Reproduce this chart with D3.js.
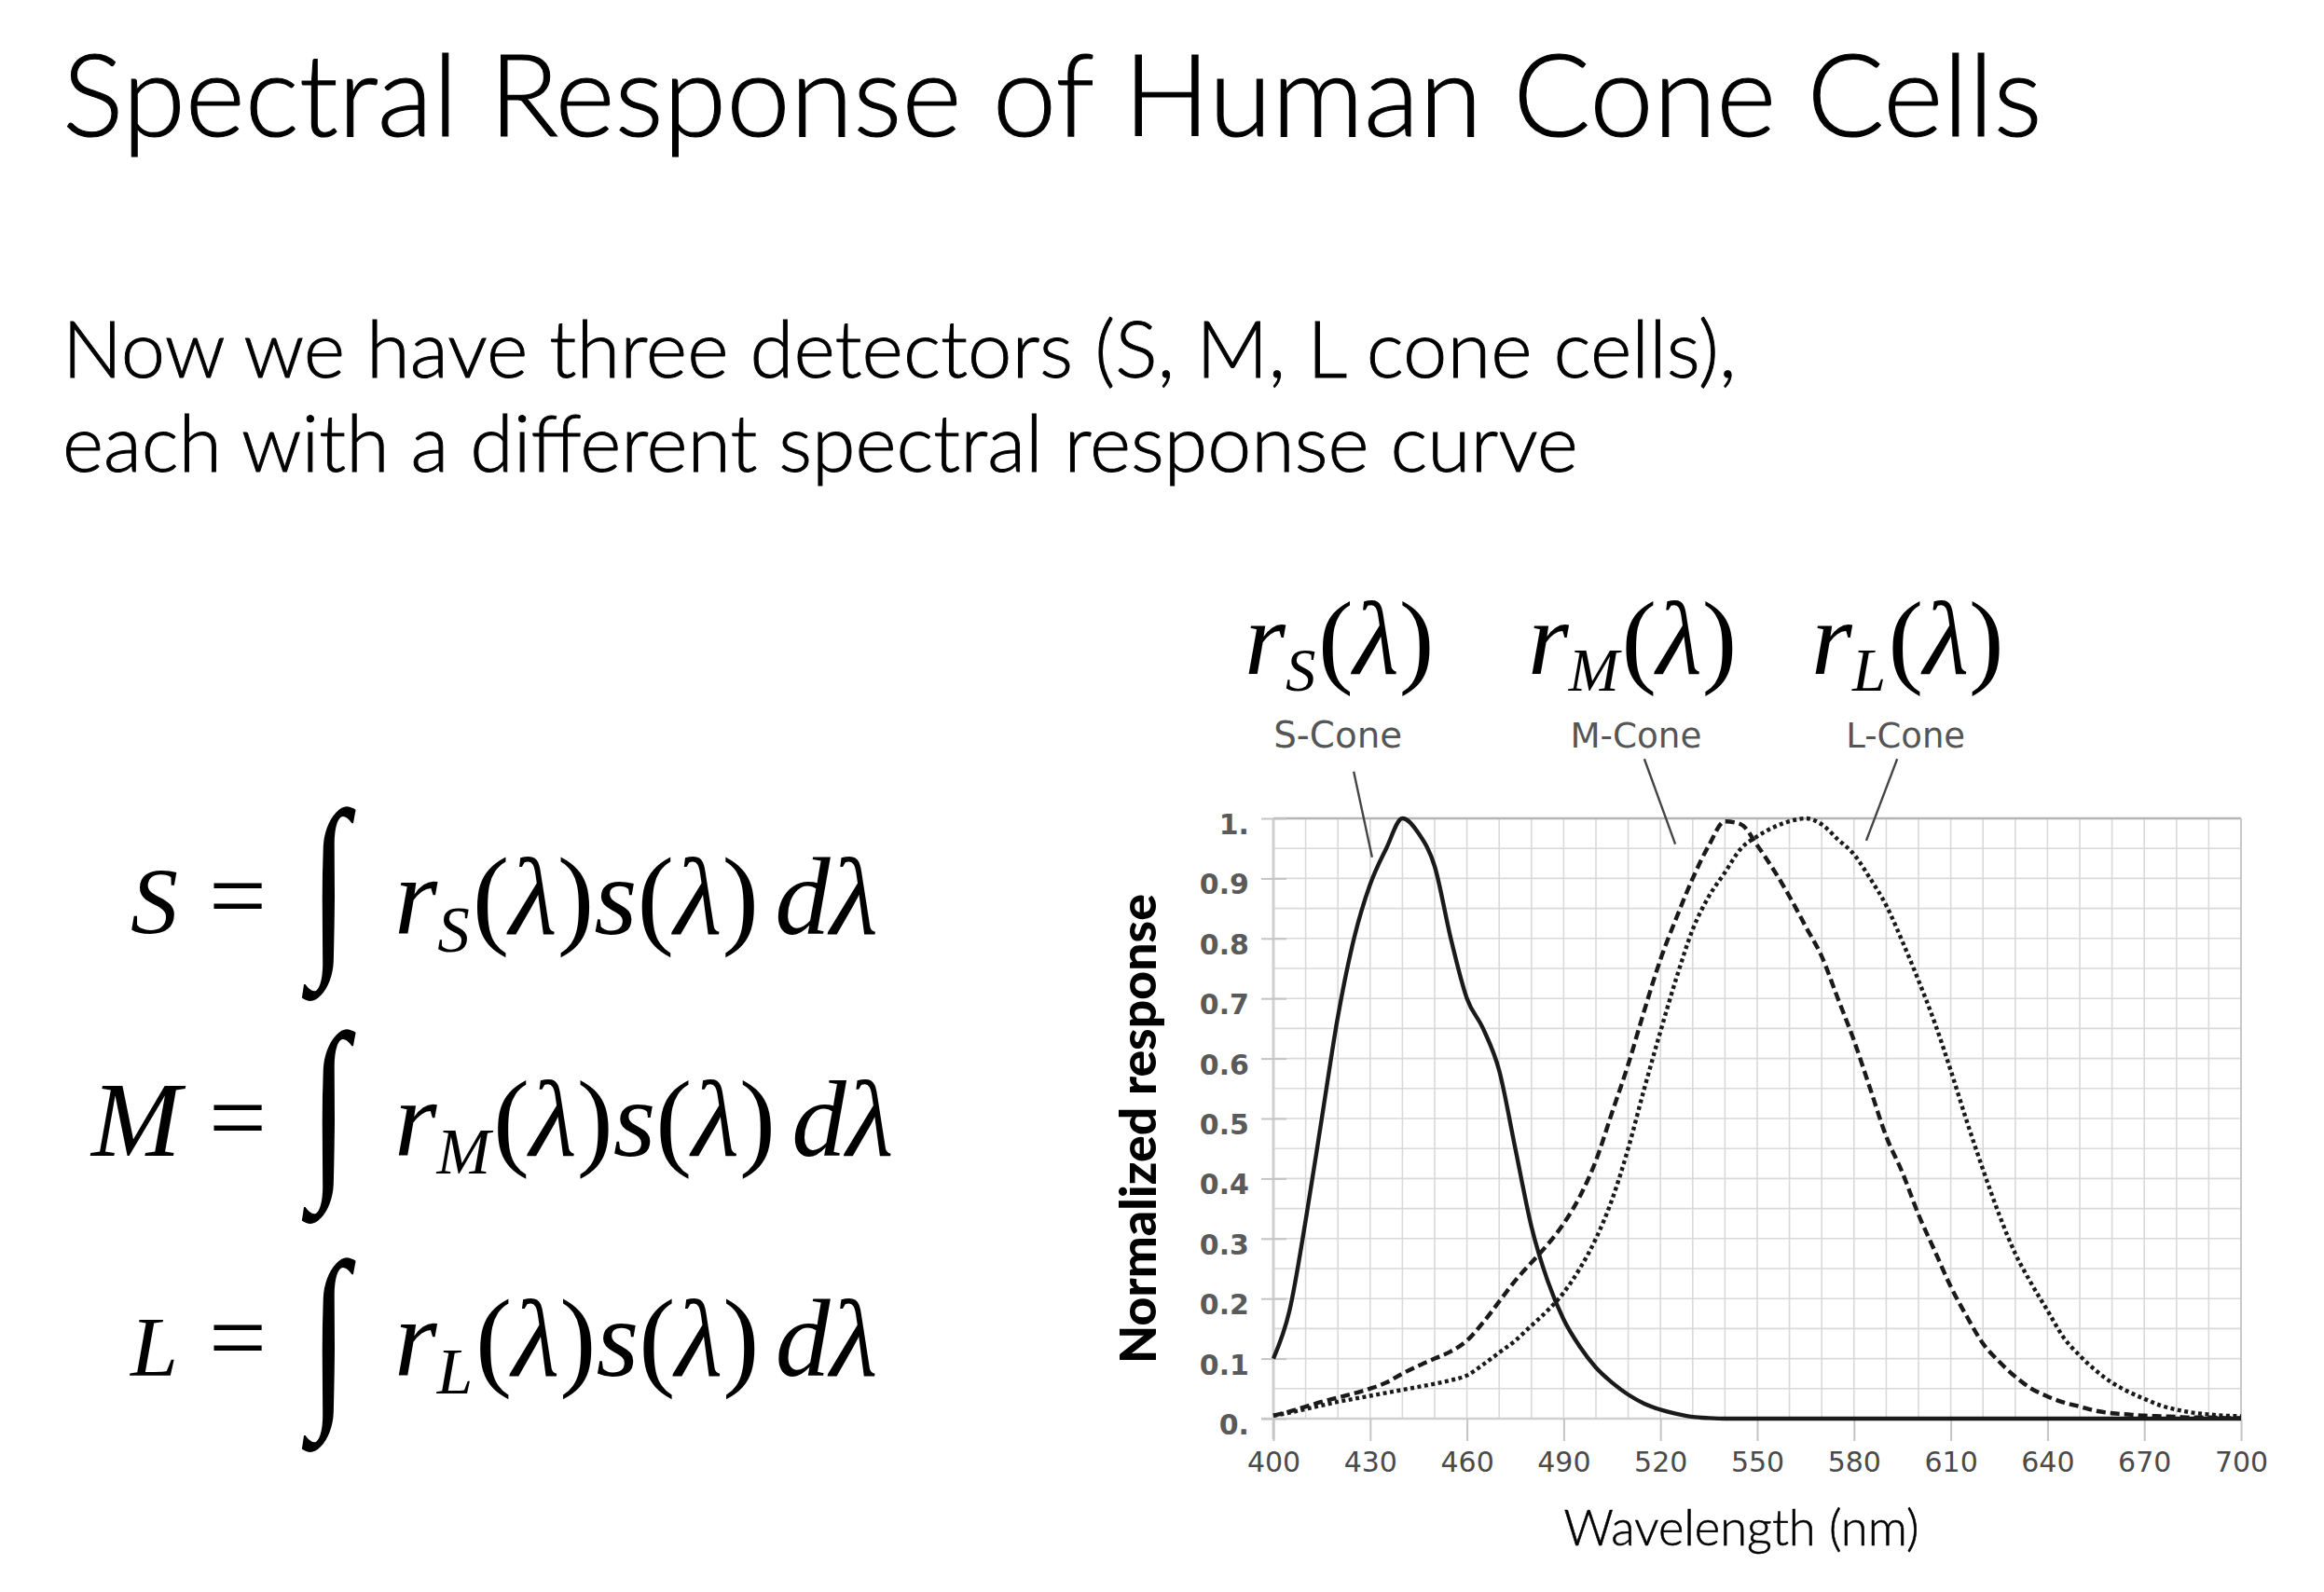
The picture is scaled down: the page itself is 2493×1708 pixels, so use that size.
<!DOCTYPE html>
<html>
<head>
<meta charset="utf-8">
<script src="https://cdn.jsdelivr.net/npm/d3@7"></script>
<style>
  html, body { margin: 0; padding: 0; background: #fff; }
  svg { display: block; }
</style>
</head>
<body>
<div id="chart"></div>
<script>
// 数据：三种视锥细胞的归一化响应（从原图读取，5nm 间隔）
const wavelengths = [400,405,410,415,420,425,430,435,440,445,450,455,460,465,470,475,480,485,490,495,500,
    505,510,515,520,525,530,535,540,545,550,555,560,565,570,575,580,585,590,595,600,
    605,610,615,620,625,630,635,640,645,650,655,660,665,670,675,680,685,690,695,700];

const sCone = [0.10,0.18,0.33,0.50,0.67,0.80,0.89,0.95,1.00,0.975,0.92,0.80,0.70,0.65,0.58,0.45,0.32,0.23,0.165,0.12,0.085,
    0.06,0.04,0.025,0.015,0.008,0.003,0.001,0,0,0,0,0,0,0,0,0,0,0,0,0,
    0,0,0,0,0,0,0,0,0,0,0,0,0,0,0,0,0,0,0,0];

const mCone = [0.005,0.012,0.02,0.028,0.035,0.042,0.05,0.06,0.075,0.088,0.10,0.112,0.13,0.16,0.195,0.23,0.26,0.29,0.325,0.37,0.43,
    0.51,0.59,0.68,0.765,0.835,0.90,0.955,0.995,0.99,0.955,0.915,0.87,0.82,0.77,0.70,0.63,0.55,0.47,0.41,0.34,
    0.28,0.22,0.17,0.125,0.095,0.07,0.05,0.037,0.027,0.02,0.013,0.009,0.007,0.005,0.004,0.003,0.002,0.002,0.001,0.001];

const lCone = [0.005,0.01,0.016,0.022,0.028,0.033,0.038,0.043,0.048,0.053,0.058,0.064,0.072,0.09,0.11,0.13,0.155,0.18,0.21,0.25,0.30,
    0.365,0.45,0.55,0.645,0.735,0.815,0.87,0.91,0.95,0.97,0.985,0.995,1.0,0.99,0.965,0.94,0.90,0.855,0.795,0.73,
    0.66,0.58,0.495,0.415,0.34,0.275,0.225,0.18,0.135,0.105,0.08,0.06,0.045,0.033,0.022,0.015,0.01,0.007,0.005,0.004];

const xTicks = [400,430,460,490,520,550,580,610,640,670,700];
const yTicks = [0,0.1,0.2,0.3,0.4,0.5,0.6,0.7,0.8,0.9,1.0];
const yTickLabels = ["0.","0.1","0.2","0.3","0.4","0.5","0.6","0.7","0.8","0.9","1."];

const coneNames = ["S-Cone","M-Cone","L-Cone"];
const coneSubs = ["S","M","L"];
// 标注线（数据坐标）：[label λ, line start λ, start v, line end λ, end v]
const coneLeaders = [[420, 424.9, 1.078, 430.6, 0.935],
                     [512.4, 515, 1.099, 524.6, 0.957],
                     [596, 593.4, 1.099, 583.8, 0.963]];

const W = 2493, H = 1708;
let plot = { left: 1366, right: 2404, top: 878, bottom: 1522 };

let svg = d3.select("#chart").append("svg")
    .attr("width", W)
    .attr("height", H)
    .style("background", "#fff");

// 把文字缩放到目标宽度
function fitWidth(sel, w) {
    let l = sel.node().getComputedTextLength();
    let fs = parseFloat(sel.attr("font-size"));
    sel.attr("font-size", fs * w / l);
    return sel;
}

const sans = "Lato, 'Open Sans', sans-serif";
const serif = "'Liberation Serif', 'DejaVu Serif', serif";

// 标题和说明文字
fitWidth(svg.append("text").attr("x", 67).attr("y", 146)
    .attr("font-family", sans).attr("font-weight", 300).attr("font-size", 110).attr("fill", "#000")
    .style("stroke", "#000").style("stroke-width", 1.1)
    .text("Spectral Response of Human Cone Cells"), 2124);

fitWidth(svg.append("text").attr("x", 67).attr("y", 405)
    .attr("font-family", sans).attr("font-weight", 300).attr("font-size", 80).attr("fill", "#000")
    .style("stroke", "#000").style("stroke-width", 0.9)
    .text("Now we have three detectors (S, M, L cone cells),"), 1796);

fitWidth(svg.append("text").attr("x", 67).attr("y", 506)
    .attr("font-family", sans).attr("font-weight", 300).attr("font-size", 80).attr("fill", "#000")
    .style("stroke", "#000").style("stroke-width", 0.9)
    .text("each with a different spectral response curve"), 1626);

// 积分公式
function mathRhs(g, sub, x, y, fs, w) {
    let t = g.append("text").attr("x", x).attr("y", y)
        .attr("font-family", serif).attr("font-size", fs).attr("fill", "#000");
    t.append("tspan").attr("font-style", "italic").text("r");
    t.append("tspan").attr("font-style", "italic").attr("font-size", fs * 0.72).attr("dy", fs * 0.2).text(sub);
    t.append("tspan").attr("dy", -fs * 0.2).attr("dx", fs * 0.03).text("(");
    t.append("tspan").attr("font-style", "italic").text("λ");
    t.append("tspan").text(")");
    if (w.full) {
        t.append("tspan").attr("font-style", "italic").text("s");
        t.append("tspan").text("(");
        t.append("tspan").attr("font-style", "italic").text("λ");
        t.append("tspan").text(")");
        t.append("tspan").attr("font-style", "italic").attr("dx", fs * 0.18).text("dλ");
    }
    fitWidth(t, w.width);
    return t;
}

let eqs = [
    { lhs: "S", lhsX: 140, lhsW: 51, base: 1002, intTop: 871 },
    { lhs: "M", lhsX: 98, lhsW: 96, base: 1240, intTop: 1110 },
    { lhs: "L", lhsX: 140, lhsW: 51, base: 1476, intTop: 1355 }
];
let eqG = svg.append("g");
eqs.forEach(function (e, i) {
    fitWidth(eqG.append("text").attr("x", e.lhsX).attr("y", e.base)
        .attr("font-family", serif).attr("font-style", "italic").attr("font-size", 96)
        .text(e.lhs), e.lhsW);
    eqG.append("text").attr("x", 224).attr("y", e.base - 4)
        .attr("font-family", serif).attr("font-size", 110).text("=");
    eqG.append("text")
        .attr("transform", "translate(332," + (e.intTop + 146) + ") scale(0.9,1.25)")
        .attr("font-family", serif).attr("font-style", "italic").attr("font-size", 170)
        .text("∫");
    mathRhs(eqG, coneSubs[i], 423, e.base, 96, { full: true, width: i == 1 ? 528 : 507 });
});

// 坐标轴
let x = d3.scaleLinear().domain([400, 700]).range([plot.left, plot.right]);
let y = d3.scaleLinear().domain([0, 1]).range([plot.bottom, plot.top]);

let grid = svg.append("g");
grid.selectAll(".vgrid")
    .data(x.ticks(30))
    .enter()
    .append("line")
    .attr("class", "vgrid")
    .attr("x1", d => x(d)).attr("x2", d => x(d))
    .attr("y1", plot.top).attr("y2", plot.bottom)
    .style("stroke", "#d9d9d9").style("stroke-width", 1.6);
grid.selectAll(".hgrid")
    .data(y.ticks(20))
    .enter()
    .append("line")
    .attr("class", "hgrid")
    .attr("x1", plot.left).attr("x2", plot.right)
    .attr("y1", d => y(d)).attr("y2", d => y(d))
    .style("stroke", "#d9d9d9").style("stroke-width", 1.6);
// 边框
grid.append("line").attr("x1", plot.left).attr("x2", plot.right)
    .attr("y1", plot.top).attr("y2", plot.top)
    .style("stroke", "#b5b5b5").style("stroke-width", 2.5);
grid.append("line").attr("x1", plot.right).attr("x2", plot.right)
    .attr("y1", plot.top).attr("y2", plot.bottom)
    .style("stroke", "#c8c8c8").style("stroke-width", 2);
grid.append("line").attr("x1", plot.left).attr("x2", plot.left)
    .attr("y1", plot.top).attr("y2", plot.bottom + 22)
    .style("stroke", "#cfcfcf").style("stroke-width", 3);
grid.append("line").attr("x1", plot.left - 13).attr("x2", plot.right)
    .attr("y1", plot.bottom).attr("y2", plot.bottom)
    .style("stroke", "#d0d0d0").style("stroke-width", 2.5);

let xAxis = svg.append("g")
    .attr("transform", "translate(0," + plot.bottom + ")")
    .call(d3.axisBottom(x).tickValues(xTicks).tickSize(24).tickPadding(12).tickFormat(d3.format("d")));
let yAxis = svg.append("g")
    .attr("transform", "translate(" + plot.left + ",0)")
    .call(d3.axisLeft(y).tickValues(yTicks).tickSize(13).tickPadding(13)
        .tickFormat((d, i) => yTickLabels[i]));

[xAxis, yAxis].forEach(function (a) {
    a.select(".domain").remove();
    a.selectAll(".tick line").style("stroke", "#c4c4c4").style("stroke-width", 2);
    a.selectAll(".tick text")
        .attr("font-family", "'DejaVu Sans', Verdana, sans-serif")
        .attr("font-size", 30)
        .attr("fill", "#4a4a4a");
});
yAxis.selectAll(".tick line").attr("x2", -13).attr("x1", 14);
yAxis.selectAll(".tick text").attr("dy", "0.55em").attr("font-weight", "bold").attr("fill", "#5a5a5a");

// 曲线
let line = d3.line()
    .x((d, i) => x(wavelengths[i]))
    .y(d => y(d))
    .curve(d3.curveMonotoneX);

let curves = [
    { values: sCone, dash: null },
    { values: mCone, dash: "10,5" },
    { values: lCone, dash: "4,3.5" }
];
svg.append("g").selectAll(".cone")
    .data(curves)
    .enter()
    .append("path")
    .attr("class", "cone")
    .attr("d", d => line(d.values))
    .style("fill", "none")
    .style("stroke", "#1a1a1a")
    .style("stroke-width", 4.4)
    .style("stroke-dasharray", d => d.dash);

// 标注
let ann = svg.append("g");
coneLeaders.forEach(function (c, i) {
    fitWidth(ann.append("text")
        .attr("x", x(c[0])).attr("y", 802)
        .attr("text-anchor", "middle")
        .attr("font-family", "'DejaVu Sans', Verdana, sans-serif")
        .attr("font-size", 34)
        .attr("fill", "#555")
        .text(coneNames[i]), i == 1 ? 141 : (i == 0 ? 138 : 128));
    ann.append("line")
        .attr("x1", x(c[1])).attr("y1", y(c[2]))
        .attr("x2", x(c[3])).attr("y2", y(c[4]))
        .style("stroke", "#444").style("stroke-width", 2.4);
});

// 曲线上方的公式标签
let labelPos = [[1335, 209], [1639, 235], [1943, 213]];
labelPos.forEach(function (p, i) {
    mathRhs(svg, coneSubs[i], p[0], 723, 90, { full: false, width: p[1] });
});

// 轴标题
fitWidth(svg.append("text")
    .attr("transform", "translate(1240,1211) rotate(-90)")
    .attr("text-anchor", "middle")
    .attr("font-family", sans).attr("font-weight", 900).attr("font-size", 46)
    .attr("fill", "#000")
    .text("Normalized response"), 504);

fitWidth(svg.append("text")
    .attr("x", 1868).attr("y", 1658)
    .attr("text-anchor", "middle")
    .attr("font-family", sans).attr("font-weight", 300).attr("font-size", 50)
    .attr("fill", "#000")
    .style("stroke", "#000").style("stroke-width", 0.6)
    .text("Wavelength (nm)"), 381);
</script>
</body>
</html>
